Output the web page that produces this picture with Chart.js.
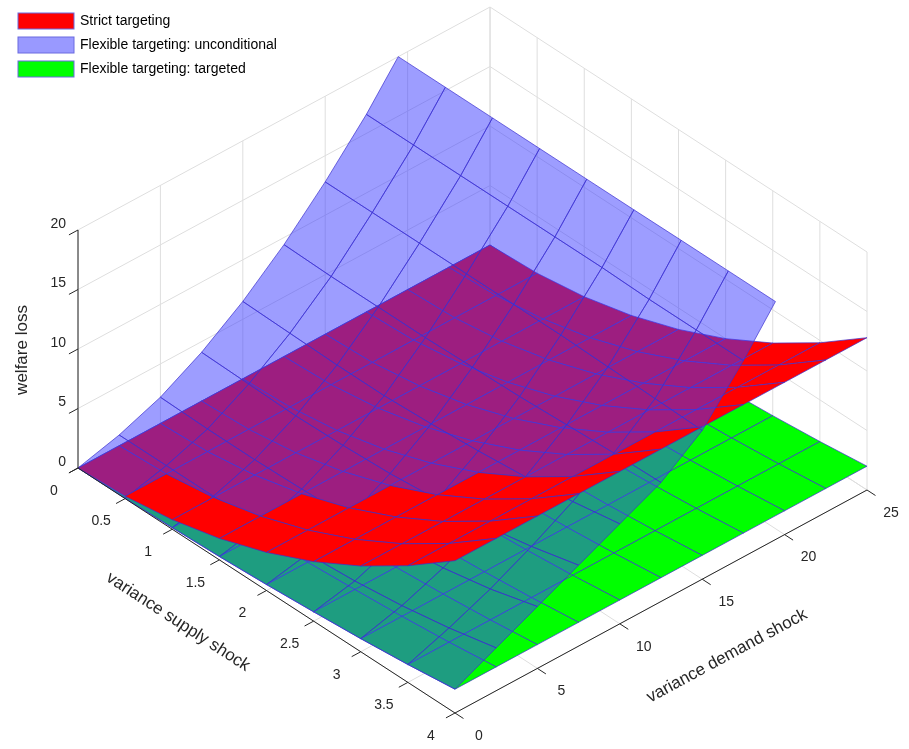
<!DOCTYPE html>
<html>
<head>
<meta charset="utf-8">
<script src="https://cdn.jsdelivr.net/npm/chart.js@4.4.1/dist/chart.umd.min.js"></script>
<style>
  html, body { margin: 0; padding: 0; background: #fff; }
  canvas { display: block; }
</style>
</head>
<body>
<canvas id="surf" width="909" height="749"></canvas>
<script>
// grid of the surfaces
const supplyVals = [0, 0.5, 1, 1.5, 2, 2.5, 3, 3.5, 4];
const demandVals = [0, 2.5, 5, 7.5, 10, 12.5, 15, 17.5, 20, 22.5, 25];

// tick labels
const supplyTicks = [0, 0.5, 1, 1.5, 2, 2.5, 3, 3.5, 4];
const demandTicks = [0, 5, 10, 15, 20, 25];
const lossTicks = [0, 5, 10, 15, 20];

// welfare loss, rows = supply variance, columns = demand variance
const strictLoss = [
    [0, 0, 0, 0, 0, 0, 0, 0, 0, 0, 0],
    [0.2, 0.2, 0.2, 0.2, 0.2, 0.2, 0.2, 0.2, 0.2, 0.2, 0.2],
    [0.8, 0.8, 0.8, 0.8, 0.8, 0.8, 0.8, 0.8, 0.8, 0.8, 0.8],
    [1.8, 1.8, 1.8, 1.8, 1.8, 1.8, 1.8, 1.8, 1.8, 1.8, 1.8],
    [3.2, 3.2, 3.2, 3.2, 3.2, 3.2, 3.2, 3.2, 3.2, 3.2, 3.2],
    [5.0, 5.0, 5.0, 5.0, 5.0, 5.0, 5.0, 5.0, 5.0, 5.0, 5.0],
    [7.2, 7.2, 7.2, 7.2, 7.2, 7.2, 7.2, 7.2, 7.2, 7.2, 7.2],
    [9.8, 9.8, 9.8, 9.8, 9.8, 9.8, 9.8, 9.8, 9.8, 9.8, 9.8],
    [12.8, 12.8, 12.8, 12.8, 12.8, 12.8, 12.8, 12.8, 12.8, 12.8, 12.8]
];
const flexUncond = [
    [0, 0.9, 2.2, 4.1, 6.5, 9.4, 12.8, 16.6, 21, 25.8, 31],
    [0.03, 0.9, 2.1, 4.0, 6.4, 9.3, 12.8, 16.6, 21, 25.8, 31],
    [0.13, 0.9, 2.1, 3.9, 6.3, 9.3, 12.8, 16.6, 21, 25.8, 31],
    [0.28, 1.0, 2.2, 4.0, 6.3, 9.3, 12.8, 16.6, 21, 25.8, 31],
    [0.5, 1.2, 2.4, 4.2, 6.5, 9.4, 12.8, 16.6, 21, 25.9, 31],
    [0.78, 1.5, 2.8, 4.6, 6.8, 9.5, 12.8, 16.6, 21, 25.9, 31],
    [1.1, 2.0, 3.3, 5.0, 7.2, 9.7, 12.7, 16.5, 21, 25.9, 31],
    [1.5, 2.7, 4.1, 5.8, 7.7, 9.9, 12.6, 16.5, 21, 26, 31],
    [2.0, 3.6, 5.2, 6.8, 8.4, 10, 12.5, 16.5, 21, 26, 31]
];
const flexTargeted = [
    [0, 0, 0, 0, 0, 0, 0, 0, 0, 0, 0],
    [0.03, 0.03, 0.03, 0.03, 0.03, 0.03, 0.03, 0.03, 0.03, 0.03, 0.03],
    [0.13, 0.13, 0.13, 0.13, 0.13, 0.13, 0.13, 0.13, 0.13, 0.13, 0.13],
    [0.28, 0.28, 0.28, 0.28, 0.28, 0.28, 0.28, 0.28, 0.28, 0.28, 0.28],
    [0.5, 0.5, 0.5, 0.5, 0.5, 0.5, 0.5, 0.5, 0.5, 0.5, 0.5],
    [0.78, 0.78, 0.78, 0.78, 0.78, 0.78, 0.78, 0.78, 0.78, 0.78, 0.78],
    [1.1, 1.1, 1.1, 1.1, 1.1, 1.1, 1.1, 1.1, 1.1, 1.1, 1.1],
    [1.5, 1.5, 1.5, 1.5, 1.5, 1.5, 1.5, 1.5, 1.5, 1.5, 1.5],
    [2.0, 2.0, 2.0, 2.0, 2.0, 2.0, 2.0, 2.0, 2.0, 2.0, 2.0]
];

const surfaces = [
    { label: 'Strict targeting', z: strictLoss, fill: '#ff0000' },
    { label: 'Flexible targeting: unconditional', z: flexUncond, fill: 'rgba(60,60,255,0.5)', legendFill: '#9999ff' },
    { label: 'Flexible targeting: targeted', z: flexTargeted, fill: '#00ff00' }
];

const Z_MAX = 20;
const X_MAX = 4, Y_MAX = 25;
const EDGE = '#3b2fcf';
const FONT = '"Liberation Sans", Arial, sans-serif';

// view: screen units of one step along each data axis
const view = { ox: 78, oy: 468, xx: 94.25, xy: 61.25, yx: 16.48, yy: -8.92, zy: -11.9 };

function proj(p) {
    return [view.ox + view.xx * p[0] + view.yx * p[1],
            view.oy + view.xy * p[0] + view.yy * p[1] + view.zy * p[2]];
}
function depth(p) { return p[0] - 0.1456 * p[1] + 0.1054 * p[2]; }

function clipTop(poly) {
    const out = [];
    for (let i = 0; i < poly.length; i++) {
        const a = poly[i], b = poly[(i + 1) % poly.length];
        const ina = a[2] <= Z_MAX, inb = b[2] <= Z_MAX;
        if (ina) out.push(a);
        if (ina !== inb) {
            const t = (Z_MAX - a[2]) / (b[2] - a[2]);
            out.push([a[0] + t * (b[0] - a[0]), a[1] + t * (b[1] - a[1]), Z_MAX]);
        }
    }
    return out;
}

function buildQuads() {
    const quads = [];
    surfaces.forEach(s => {
        for (let i = 0; i < supplyVals.length - 1; i++) {
            for (let j = 0; j < demandVals.length - 1; j++) {
                const pts = [
                    [supplyVals[i], demandVals[j], s.z[i][j]],
                    [supplyVals[i + 1], demandVals[j], s.z[i + 1][j]],
                    [supplyVals[i + 1], demandVals[j + 1], s.z[i + 1][j + 1]],
                    [supplyVals[i], demandVals[j + 1], s.z[i][j + 1]]
                ];
                const c = pts.reduce((a, p) => [a[0] + p[0] / 4, a[1] + p[1] / 4, a[2] + p[2] / 4], [0, 0, 0]);
                const poly = clipTop(pts);
                if (poly.length > 2) quads.push({ poly, d: depth(c), fill: s.fill });
            }
        }
    });
    return quads.sort((a, b) => a.d - b.d);
}

const surfacePlugin = {
    id: 'surface3d',
    afterDatasetsDraw(chart) {
        const ctx = chart.ctx;
        const sx = chart.scales.x, sy = chart.scales.y;
        const px = p => { const q = proj(p); return [sx.getPixelForValue(q[0]), sy.getPixelForValue(q[1])]; };
        const line = (a, b, color, w) => {
            const A = px(a), B = px(b);
            ctx.strokeStyle = color; ctx.lineWidth = w;
            ctx.beginPath(); ctx.moveTo(A[0], A[1]); ctx.lineTo(B[0], B[1]); ctx.stroke();
        };
        ctx.save();

        // grid on floor and back walls
        const grid = '#dedede';
        supplyTicks.forEach(x => {
            line([x, 0, 0], [x, Y_MAX, 0], grid, 1);
            line([x, Y_MAX, 0], [x, Y_MAX, Z_MAX], grid, 1);
        });
        demandTicks.forEach(y => {
            line([0, y, 0], [X_MAX, y, 0], grid, 1);
            line([0, y, 0], [0, y, Z_MAX], grid, 1);
        });
        lossTicks.forEach(z => {
            line([0, 0, z], [0, Y_MAX, z], grid, 1);
            line([0, Y_MAX, z], [X_MAX, Y_MAX, z], grid, 1);
        });

        // surfaces, far to near
        buildQuads().forEach(q => {
            ctx.beginPath();
            q.poly.forEach((p, k) => { const P = px(p); k ? ctx.lineTo(P[0], P[1]) : ctx.moveTo(P[0], P[1]); });
            ctx.closePath();
            ctx.fillStyle = q.fill; ctx.fill();
            ctx.strokeStyle = EDGE; ctx.lineWidth = 0.7; ctx.stroke();
        });

        // axes
        const ax = '#262626';
        line([0, 0, 0], [X_MAX, 0, 0], ax, 1);
        line([X_MAX, 0, 0], [X_MAX, Y_MAX, 0], ax, 1);
        line([0, 0, 0], [0, 0, Z_MAX], ax, 1);
        ctx.fillStyle = ax;
        ctx.font = '14px ' + FONT;
        ctx.textAlign = 'center'; ctx.textBaseline = 'middle';
        supplyTicks.forEach(x => {
            line([x, 0, 0], [x, -0.55, 0], ax, 1);
            const P = px([x, 0, 0]);
            ctx.fillText(String(x), P[0] - 24, P[1] + 23);
        });
        demandTicks.forEach(y => {
            line([X_MAX, y, 0], [X_MAX + 0.09, y, 0], ax, 1);
            const P = px([X_MAX, y, 0]);
            ctx.fillText(String(y), P[0] + 24, P[1] + 23);
        });
        ctx.textAlign = 'right';
        lossTicks.forEach(z => {
            line([0, 0, z], [0, -0.55, z], ax, 1);
            const P = px([0, 0, z]);
            ctx.fillText(String(z), P[0] - 12, P[1] - 6);
        });

        // axis titles
        ctx.font = '17px ' + FONT;
        ctx.textAlign = 'center';
        const title = (text, p, ang) => {
            ctx.save(); ctx.translate(p[0], p[1]); ctx.rotate(ang); ctx.fillText(text, 0, 0); ctx.restore();
        };
        title('welfare loss', [22, 350], -Math.PI / 2);
        title('variance supply shock', [178, 622], Math.atan2(view.xy, view.xx));
        title('variance demand shock', [727, 656], Math.atan2(view.yy, view.yx));

        // legend
        ctx.font = '14px ' + FONT;
        ctx.textAlign = 'left';
        surfaces.forEach((s, k) => {
            const y = 13 + k * 24;
            ctx.fillStyle = s.legendFill || s.fill;
            ctx.fillRect(18, y, 56, 16);
            ctx.strokeStyle = '#6a6ae0'; ctx.lineWidth = 1;
            ctx.strokeRect(18, y, 56, 16);
            ctx.fillStyle = '#000';
            ctx.fillText(s.label, 80, y + 8);
        });
        ctx.restore();
    }
};

new Chart(document.getElementById('surf'), {
    type: 'scatter',
    data: { datasets: [{ data: [], pointRadius: 0 }] },
    options: {
        responsive: false,
        animation: false,
        devicePixelRatio: 1,
        layout: { padding: 0 },
        plugins: { legend: { display: false }, tooltip: { enabled: false } },
        scales: {
            x: { type: 'linear', min: 0, max: 909, display: false },
            y: { type: 'linear', min: 0, max: 749, reverse: true, display: false }
        }
    },
    plugins: [surfacePlugin]
});
</script>
</body>
</html>
